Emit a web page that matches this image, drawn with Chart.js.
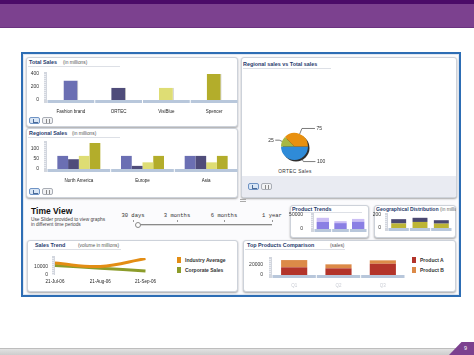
<!DOCTYPE html>
<html><head><meta charset="utf-8">
<script src="https://cdn.jsdelivr.net/npm/chart.js@4/dist/chart.umd.min.js"></script>
<style>
body{margin:0;width:474px;height:355px;position:relative;overflow:hidden;background:#fff;font-family:"Liberation Sans",Arial,sans-serif}
.a{position:absolute}
.panel{position:absolute;background:#fff;border:1px solid #cdd2da;border-radius:3px;box-shadow:0 1px 2px rgba(0,0,0,.35);box-sizing:border-box;overflow:hidden}
.t{position:absolute;font-weight:bold;font-size:5.4px;line-height:6px;color:#1f3b6d;white-space:nowrap}
.s{position:absolute;font-size:4.8px;line-height:5px;color:#555;white-space:nowrap}
.ul{position:absolute;height:1px;background:#dde0e6}
.lg{position:absolute;font-weight:bold;font-size:5px;line-height:5px;color:#333;white-space:nowrap}
.sq{position:absolute;width:4px;height:6px}
.sl{position:absolute;font-family:"Liberation Mono",monospace;font-size:5.5px;line-height:6px;color:#333;white-space:nowrap;transform:translateX(-50%)}
canvas{position:absolute}
.b1,.b2{position:absolute;width:11px;height:7px;border-radius:2px;box-sizing:border-box}
.b1{background:#d9e6f5;border:1px solid #6f93c4}
.b2{background:#f1f2f4;border:1px solid #a9adb5}
</style></head><body>
<!-- header -->
<div class="a" style="left:0;top:0;width:474px;height:4px;background:#4b0b68"></div>
<div class="a" style="left:0;top:4px;width:474px;height:23px;background:#7c418f;border-bottom:1px solid #6b3380"></div>
<!-- frame -->
<div class="a" style="left:21px;top:52px;width:440px;height:245px;box-sizing:border-box;border:2px solid #2d6db4;background:#fbfbfd;box-shadow:inset 0 0 0 1px #dfe7f2"></div>
<!-- panels -->
<div class="panel" style="left:26px;top:57px;width:212px;height:70px"></div>
<div class="panel" style="left:26px;top:128px;width:212px;height:70px"></div>
<div class="panel" style="left:241px;top:57px;width:216px;height:141px"><div class="a" style="left:0;top:118px;width:216px;height:23px;background:#e9ebf2"></div></div>
<div class="panel" style="left:290px;top:205px;width:79px;height:33px"></div>
<div class="panel" style="left:374px;top:205px;width:82px;height:33px"></div>
<div class="panel" style="left:27px;top:240px;width:211px;height:52px"></div>
<div class="panel" style="left:243px;top:240px;width:213px;height:52px"></div>
<!-- titles -->
<div class="t" style="left:29px;top:59px">Total Sales</div><div class="s" style="left:63px;top:59.5px">(in millions)</div><div class="ul" style="left:28px;top:66px;width:92px"></div>
<div class="t" style="left:29px;top:130px">Regional Sales</div><div class="s" style="left:72px;top:130.5px">(in millions)</div><div class="ul" style="left:28px;top:137px;width:92px"></div>
<div class="t" style="left:243px;top:61px">Regional sales vs Total sales</div><div class="ul" style="left:243px;top:68px;width:88px"></div>
<div class="t" style="left:292px;top:206px">Product Trends</div><div class="ul" style="left:292px;top:212px;width:70px"></div>
<div class="a" style="left:375px;top:205px;width:81px;height:8px;overflow:hidden"><div class="t" style="left:1px;top:1px;font-size:5.1px">Geographical Distribution <span style="font-weight:normal;color:#666;font-size:4.8px">(in millions)</span></div></div>
<div class="t" style="left:35px;top:242px">Sales Trend</div><div class="s" style="left:78px;top:242.5px">(volume in millions)</div><div class="ul" style="left:33px;top:249px;width:88px"></div>
<div class="t" style="left:247px;top:242px">Top Products Comparison</div><div class="s" style="left:330px;top:242.5px">(sales)</div><div class="ul" style="left:245px;top:249px;width:100px"></div>
<div class="s" style="left:266px;top:168.5px;width:58px;text-align:center;color:#333;letter-spacing:0.3px">ORTEC Sales</div>
<!-- time view -->
<div class="a" style="left:31px;top:207px;font-weight:bold;font-size:8.5px;line-height:9px;color:#111">Time View</div>
<div class="s" style="left:31px;top:216.5px;color:#444">Use Slider provided to view graphs</div>
<div class="s" style="left:31px;top:221.5px;color:#444">in different time periods</div>
<div class="a" style="left:137px;top:224px;width:135px;height:1px;background:#8a8a8a;border-bottom:1px solid #d8d8d8"></div>
<div class="a" style="left:134.5px;top:221.5px;width:4px;height:4px;border-radius:50%;border:1px solid #888;background:#fff"></div>
<div class="a" style="left:240px;top:199px;width:6px;height:1px;background:#aaa;box-shadow:0 2px 0 #aaa"></div>
<div id="legs"></div>
<div id="sliders"></div>
<div id="btns"></div>
<!-- footer -->
<div class="a" style="left:0;top:348px;width:474px;height:7px;background:linear-gradient(#e2e2e2,#c9c9c9);border-top:1px solid #bdbdbd"></div>
<div class="a" style="left:449px;top:342px;width:25px;height:13px;background:#7c418f;clip-path:polygon(50% 0,100% 0,100% 100%,0 100%)"></div>
<div class="a" style="left:464px;top:345px;font-size:5.5px;line-height:6px;color:#fff">9</div>

<canvas id="c1" width="210" height="50" style="left:28px;top:66px"></canvas>
<canvas id="c2" width="210" height="49" style="left:28px;top:136px"></canvas>
<canvas id="c3" width="80" height="56" style="left:260px;top:120px"></canvas>
<canvas id="c4" width="79" height="24" style="left:288px;top:210px"></canvas>
<canvas id="c5" width="82" height="23" style="left:370px;top:210px"></canvas>
<canvas id="c6" width="130" height="33" style="left:30px;top:252px"></canvas>
<canvas id="c7" width="159" height="36" style="left:246px;top:253px"></canvas>
<script>
// ---------------- data ----------------
const TS_LABELS = ['Fashion brand','ORTEC','VisiBlue','Spencer'];
const TS_VALUES = [300,190,190,400];
const TS_TICKS = [0,200,400];

const RS_LABELS = ['North America','Europe','Asia'];
const RS_S1 = [63,63,63];
const RS_S2 = [47,15,63];
const RS_S3 = [63,32,32];
const RS_S4 = [125,63,63];
const RS_TICKS = [0,50,100];

const PIE_LABELS = ['North America','Europe','Asia'];
const PIE_VALUES = [100,25,75];

const PT_LABELS = ['A','B','C'];
const PT_BASE = [25000,21000,26000];
const PT_TOP = [15000,7000,10000];
const PT_TICKS = [0,50000];

const GD_LABELS = ['North America','Europe','Asia'];
const GD_LOW = [70,93,67];
const GD_HIGH = [66,64,53];
const GD_TICKS = [0,200];

const ST_LABELS = ['21-Jul-06','21-Aug-06','21-Sep-06'];
const ST_SERIES = ['Industry Average','Corporate Sales'];
const ST_IND = [14000,10000,19300];
const ST_CORP = [11200,8000,4800];
const ST_TICKS = [0,10000];

const TP_LABELS = ['Q1','Q2','Q3'];
const TP_SERIES = ['Product A','Product B'];
const TP_A = [14400,12500,21100];
const TP_B = [13600,7500,6400];
const TP_TICKS = [0,20000];

const SLIDER_LABELS = ['30 days','3 months','6 months','1 year'];

// ---------------- styles ----------------
const C = {p1:'#6b6fb3',p2:'#4f4c7a',p3:'#dedd74',p4:'#b3ad2b',
  blue:'#2f8bd8',green:'#a7b742',orange:'#e8900f',
  ptA:'#8a7fe4',ptB:'#cbbef4',gdLow:'#bdb535',gdHigh:'#4a4870',
  ind:'#e38d14',corp:'#8c9c2a',tpA:'#b3342a',tpB:'#dc8a48'};

Chart.defaults.font.family = '"Liberation Sans", Arial, sans-serif';
Chart.defaults.animation = false;
Chart.defaults.plugins.legend.display = false;
Chart.defaults.plugins.tooltip.enabled = false;

const bands = {
  id:'bands',
  beforeDatasetsDraw(chart, args, o){
    if(!o || !o.on) return;
    const ctx = chart.ctx, a = chart.chartArea;
    ctx.save();
    if(o.x){
      const n = chart.data.labels.length, w = a.width/n;
      ctx.fillStyle = o.x;
      for(let i=0;i<n;i++) ctx.fillRect(a.left+i*w+0.5, a.bottom, w-1, o.h||3);
    }
    ctx.fillStyle = o.y || '#d2d6de';
    ctx.fillRect(a.left-3, a.top-2, 3, a.bottom-a.top+(o.x?(o.h||3):0)+2);
    ctx.fillStyle = '#eceef3';
    for(let y=a.top; y<a.bottom; y+=2) ctx.fillRect(a.left-3, y, 2, 1);
    ctx.restore();
  }
};
const pieDeco = {
  id:'pieDeco',
  beforeDatasetsDraw(chart, args, o){
    if(!o || !o.on) return;
    const arc = chart.getDatasetMeta(0).data[0]; const ctx = chart.ctx;
    ctx.save(); ctx.fillStyle = '#2e2e2e';
    ctx.beginPath(); ctx.arc(arc.x+1.5, arc.y+1.5, arc.outerRadius, 0, Math.PI*2); ctx.fill();
    ctx.restore();
  },
  afterDatasetsDraw(chart, args, o){
    if(!o || !o.on) return;
    const ctx = chart.ctx; const ds = chart.data.datasets[0];
    ctx.save(); ctx.strokeStyle = '#444'; ctx.lineWidth = 0.7; ctx.fillStyle = '#333';
    ctx.font = '5px "Liberation Sans", Arial, sans-serif'; ctx.textBaseline = 'middle';
    chart.getDatasetMeta(0).data.forEach((arc,i)=>{
      const ang = arc.startAngle + (arc.endAngle-arc.startAngle)*o.anchor[i];
      const cx = Math.cos(ang), sy = Math.sin(ang), r = arc.outerRadius;
      const px = arc.x+cx*r, py = arc.y+sy*r;
      const ex = px+cx*o.ext[i], ey = py+sy*o.ext[i];
      const dir = cx>=0?1:-1; const hx = ex+dir*o.len[i];
      ctx.beginPath(); ctx.moveTo(px,py); ctx.lineTo(ex,ey); ctx.lineTo(hx,ey); ctx.stroke();
      ctx.textAlign = dir>0?'left':'right';
      ctx.fillText(String(ds.data[i]), hx+dir*1.5, ey);
    });
    ctx.restore();
  }
};
Chart.register(bands, pieDeco);

function yAxis(ticks, max, width, gap){
  return {min:0, max:max, grid:{display:false,drawTicks:true,tickLength:gap}, border:{display:false},
    ticks:{padding:0, font:{size:5}, color:'#333', callback:v=>String(v)},
    afterBuildTicks:s=>{ s.ticks = ticks.map(v=>({value:v})); },
    afterFit:s=>{ s.width = width; }};
}
function xAxis(height, pad, show, color, stacked){
  return {stacked:!!stacked, grid:{display:false,drawTicks:false}, border:{display:false},
    ticks:{display:show, padding:pad, font:{size:4.5}, color:color||'#222', maxRotation:0, autoSkip:false},
    afterFit:s=>{ s.height = height; }};
}
const base = {responsive:false, maintainAspectRatio:false};
const lay = (p)=>({autoPadding:false, padding:p});

// Total Sales
new Chart(document.getElementById('c1'), {type:'bar',
  data:{labels:TS_LABELS, datasets:[{data:TS_VALUES, backgroundColor:[C.p1,C.p2,C.p3,C.p4], borderColor:'rgba(0,0,0,0.25)', borderWidth:{right:1}, barPercentage:0.31, categoryPercentage:1}]},
  options:{...base, layout:lay({top:8}),
    scales:{x:xAxis(16,9,true), y:yAxis(TS_TICKS,400,19,8)},
    plugins:{bands:{on:true,x:'#b8c7db'}}}});

// Regional Sales
new Chart(document.getElementById('c2'), {type:'bar',
  data:{labels:RS_LABELS, datasets:[
    {data:RS_S1, backgroundColor:C.p1},{data:RS_S2, backgroundColor:C.p2},
    {data:RS_S3, backgroundColor:C.p3},{data:RS_S4, backgroundColor:C.p4}].map(d=>({...d,barPercentage:1,categoryPercentage:0.675}))},
  options:{...base, layout:lay({top:7}),
    scales:{x:xAxis(16,9,true), y:yAxis(RS_TICKS,125,19,8)},
    plugins:{bands:{on:true,x:'#b8c7db'}}}});

// Pie
new Chart(document.getElementById('c3'), {type:'pie',
  data:{labels:PIE_LABELS, datasets:[{data:PIE_VALUES, backgroundColor:[C.blue,C.green,C.orange], borderWidth:0}]},
  options:{...base, rotation:90, layout:lay({left:21,right:32,top:13,bottom:16}),
    plugins:{bands:false, pieDeco:{on:true, anchor:[0.33,0.5,0.5], ext:[4,3,6], len:[12,4,13]}}}});

// Product Trends
new Chart(document.getElementById('c4'), {type:'bar',
  data:{labels:PT_LABELS, datasets:[
    {data:PT_BASE, backgroundColor:C.ptA, barPercentage:0.7, categoryPercentage:1},
    {data:PT_TOP, backgroundColor:C.ptB, barPercentage:0.7, categoryPercentage:1}]},
  options:{...base, layout:lay({top:5}),
    scales:{x:xAxis(5,0,false,null,true), y:{...yAxis(PT_TICKS,50000,26,11), stacked:true}},
    plugins:{bands:{on:true,x:'#b8c7db',h:3}}}});

// Geographical Distribution
new Chart(document.getElementById('c5'), {type:'bar',
  data:{labels:GD_LABELS, datasets:[
    {data:GD_LOW, backgroundColor:C.gdLow, barPercentage:0.7, categoryPercentage:1},
    {data:GD_HIGH, backgroundColor:C.gdHigh, barPercentage:0.7, categoryPercentage:1}]},
  options:{...base, layout:lay({top:5}),
    scales:{x:xAxis(5,0,false,null,true), y:{...yAxis(GD_TICKS,200,18,7), stacked:true}},
    plugins:{bands:{on:true,x:'#b8c7db',h:3}}}});

// Sales Trend
new Chart(document.getElementById('c6'), {type:'line',
  data:{labels:ST_LABELS, datasets:[
    {label:ST_SERIES[0], data:ST_IND, borderColor:C.ind, borderWidth:3, tension:0.4, pointRadius:0},
    {label:ST_SERIES[1], data:ST_CORP, borderColor:C.corp, borderWidth:3, tension:0.4, pointRadius:0}]},
  options:{...base, layout:lay({top:6,right:3}),
    scales:{x:{...xAxis(10,4,true), offset:false}, y:yAxis(ST_TICKS,20000,25,7)},
    plugins:{bands:{on:true}}}});

// Top Products
new Chart(document.getElementById('c7'), {type:'bar',
  data:{labels:TP_LABELS, datasets:[
    {label:TP_SERIES[0], data:TP_A, backgroundColor:C.tpA, barPercentage:0.59, categoryPercentage:1},
    {label:TP_SERIES[1], data:TP_B, backgroundColor:C.tpB, barPercentage:0.59, categoryPercentage:1}]},
  options:{...base, layout:lay({top:6}),
    scales:{x:xAxis(14,8,true,'#c9ccd4',true), y:{...yAxis(TP_TICKS,30000,26,9), stacked:true}},
    plugins:{bands:{on:true,x:'#b8c7db'}}}});

// legends
const legs = document.getElementById('legs');
function legend(x, y, names, colors){
  names.forEach((n,i)=>{
    legs.insertAdjacentHTML('beforeend',
      `<div class="sq" style="left:${x}px;top:${y+i*10-3}px;background:${colors[i]}"></div><div class="lg" style="left:${x+8}px;top:${y+i*10-2.5}px">${n}</div>`);
  });
}
legend(177, 260, ST_SERIES, [C.ind, C.corp]);
legend(412, 260, TP_SERIES, [C.tpA, C.tpB]);

// slider labels
const sl = document.getElementById('sliders');
const sx = [133,177,224,272];
SLIDER_LABELS.forEach((t,i)=>{
  sl.insertAdjacentHTML('beforeend', `<div class="sl" style="left:${sx[i]}px;top:213px">${t}</div><div class="a" style="left:${sx[i]}px;top:220px;width:1px;height:2px;background:#999"></div>`);
});

// toggle buttons
const bt = document.getElementById('btns');
[[29,117],[29,188],[248,183]].forEach(([x,y])=>{
  bt.insertAdjacentHTML('beforeend', `<div class="b1" style="left:${x}px;top:${y}px"><div class="a" style="left:3px;top:1px;width:1px;height:4px;background:#4a6a98"></div><div class="a" style="left:3px;top:4px;width:5px;height:1px;background:#4a6a98"></div></div><div class="b2" style="left:${x+13}px;top:${y}px"><div class="a" style="left:3px;top:1px;width:4px;height:4px;border-left:1px solid #888;border-right:1px solid #888;box-sizing:border-box"></div></div>`);
});
</script>
</body></html>
